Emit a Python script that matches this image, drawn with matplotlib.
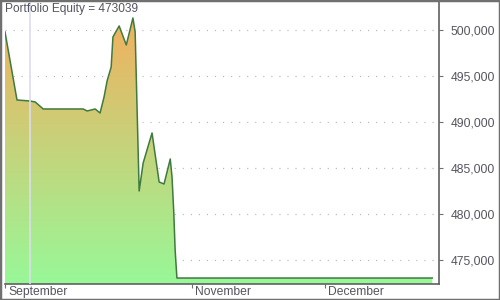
import numpy as np
import matplotlib
matplotlib.use("Agg")
import matplotlib.pyplot as plt
from matplotlib.colors import LinearSegmentedColormap
from matplotlib.patches import Rectangle
import matplotlib.transforms as mtransforms

# day offsets from the first bar of the chart, and equity values
days = [0.0, 2.7, 5.6, 6.8, 8.6, 17.6, 18.5, 20.3, 21.4, 22.3, 23.0, 23.9, 24.3,
        24.8, 25.7, 27.3, 28.8, 29.3, 30.2, 31.1, 33.1, 34.7, 35.8, 36.7, 37.2,
        37.6, 38.0, 38.3, 38.7, 96.2]
equity = [499783, 492391, 492283, 492174, 491413, 491413, 491196, 491413, 490978,
          492717, 494500, 495978, 499239, 499674, 500435, 498370, 501304, 499783,
          482500, 485543, 488804, 483478, 483261, 485000, 485978, 484022, 480109,
          476087, 473039, 473039]
final_equity = 473039
cursor_day = 5.6

month_days = [0, 42, 72]
month_labels = ["September", "November", "December"]
y_ticks = [475000, 480000, 485000, 490000, 495000, 500000]

plt.rcParams['font.family'] = ['Liberation Sans', 'DejaVu Sans']
plt.rcParams['lines.scale_dashes'] = False

fig = plt.figure(figsize=(5, 3), dpi=100)
ax = fig.add_axes([5 / 500, 16 / 300, 434 / 500, 282 / 300])

ylo, yhi = 472390, 503040
ax.set_xlim(0, 97.7)
ax.set_ylim(ylo, yhi)

# gradient fill under the equity curve
poly = ax.fill_between(days, equity, ylo, color='none', lw=0)
cmap = LinearSegmentedColormap.from_list('eq', ['#98f898', '#f6ac5c'])
grad = np.linspace(0, 1, 256).reshape(-1, 1)
img = ax.imshow(grad, cmap=cmap, aspect='auto', origin='lower',
                extent=[0, 97.7, ylo, yhi], zorder=1)
img.set_clip_path(poly.get_paths()[0], transform=ax.transData)
ax.plot(days, equity, color='#3f7a3f', lw=1.1, zorder=3)

ax.axvline(cursor_day, color='#dcdcf0', lw=1.2, zorder=4)

for yv in y_ticks:
    ax.axhline(yv, color='#b8b8b8', lw=0.9, dashes=(0.8, 5), zorder=0.5)

ax.yaxis.tick_right()
ax.set_yticks(y_ticks)
ax.set_yticklabels([f"{v:,}" for v in y_ticks])
ax.tick_params(axis='y', direction='out', length=3, width=0.8, color='#707070',
               pad=5.5, labelsize=8.7, labelcolor='#555560')

ax.set_xticks(month_days)
ax.set_xticklabels(month_labels, ha='left')
ax.tick_params(axis='x', direction='out', length=3, width=0.8, color='#707070',
               pad=-1.5, labelsize=8.7, labelcolor='#555560')
offset = mtransforms.ScaledTranslation(3 / 100, 0, fig.dpi_scale_trans)
for lab in ax.get_xticklabels():
    lab.set_transform(lab.get_transform() + offset)

for side in ['left', 'top']:
    ax.spines[side].set_visible(False)
for side in ['bottom', 'right']:
    ax.spines[side].set_color('#606060')
    ax.spines[side].set_linewidth(1.2)

ax.text(0.0, 0.997, f"Portfolio Equity = {final_equity}", transform=ax.transAxes,
        ha='left', va='top', fontsize=8.6, color='#555560', zorder=5)

fig.patches.append(Rectangle((0, 0), 1, 1, transform=fig.transFigure, fill=False,
                             edgecolor='#707070', lw=2.5, zorder=10))

fig.savefig('out.png', dpi=100)
